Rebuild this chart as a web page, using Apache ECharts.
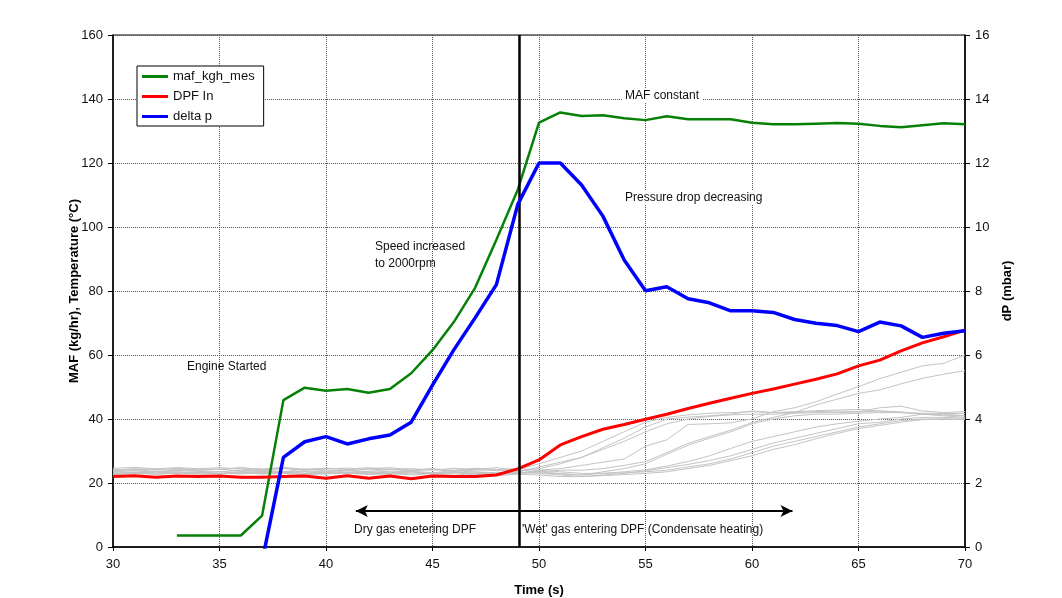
<!DOCTYPE html>
<html>
<head>
<meta charset="utf-8">
<script src="https://cdn.jsdelivr.net/npm/echarts@6/dist/echarts.min.js"></script>
<style>
  html, body { margin: 0; padding: 0; background: #fff; }
  #chart { width: 1062px; height: 598px; }
</style>
</head>
<body>
<div id="chart"></div>
<script>
// time (s), one sample per second
var times = [30,31,32,33,34,35,36,37,38,39,40,41,42,43,44,45,46,47,48,49,50,
  51,52,53,54,55,56,57,58,59,60,61,62,63,64,65,66,67,68,69,70];

// mass air flow (kg/hr)
var mafKgh = [null,null,null,3.6,3.6,3.6,3.6,9.8,45.9,49.8,48.8,49.4,48.2,49.4,54.3,61.5,70.3,81,96,111.6,
  132.6,135.8,134.7,134.9,134,133.4,134.6,133.7,133.7,133.7,132.6,132.1,132.1,132.3,132.5,132.3,131.6,131.2,131.8,132.4,132.1];

// DPF inlet temperature (C)
var dpfIn = [22,22.3,21.8,22.2,22,22.2,21.8,21.8,22,22.2,21.5,22.3,21.5,22.2,21.3,22.2,22,22,22.5,24.4,
  27.2,31.9,34.5,36.8,38.3,39.9,41.5,43.3,44.9,46.5,48,49.4,50.9,52.4,54.1,56.6,58.4,61.3,63.8,65.7,67.8];

// pressure drop (mbar)
var deltaP = [null,null,null,null,null,null,null,-0.45,2.8,3.29,3.45,3.22,3.38,3.5,3.9,5.06,6.16,7.16,8.2,10.7,
  12.0,12.0,11.31,10.34,8.97,8.01,8.13,7.76,7.63,7.38,7.38,7.33,7.11,6.99,6.92,6.73,7.03,6.91,6.55,6.68,6.76];

// other thermocouples (grey)
var tc1 = [24.0,24.5,24.2,24.6,24.1,24.3,24.8,24.2,24.6,24.0,24.3,24.7,24.1,24.4,23.8,24.2,23.6,24.4,23.8,24.2,
  26,28,30,33,36,39,40.5,41.3,41.8,42,42.3,42,42.3,42.6,42.8,43,42.5,42,41.8,41.7,41.7];
var tc2 = [23.5,23.8,23.4,23.9,23.6,23.5,24.0,23.7,23.4,23.8,23.5,24.0,23.3,23.7,23.5,23.2,23.9,23.4,23.0,23.5,
  25,26.5,28,31,34,37.5,40,40.6,41,41.5,42.5,42,42,42.3,42.5,42.3,43.5,44,42.5,42,42.3];
var tc3 = [23.0,23.4,23.1,23.5,23.2,23.0,23.6,23.3,23.1,23.5,23.0,23.4,23.2,23.0,23.5,22.8,23.4,23.0,22.6,23.0,
  24,24.5,25.5,26.5,27.5,31.5,33.5,38.3,38.5,38.8,40,42.3,43.5,45.4,47.8,50.1,52.6,54.6,56.6,57.4,60];
var tc4 = [22.6,23.0,22.8,23.2,22.7,22.9,23.3,22.8,23.0,22.6,22.9,23.1,22.6,23.0,22.5,22.9,22.4,23.0,22.3,22.8,
  23.5,24,24,24.5,25.5,26.7,29.5,32.4,34.5,36.5,38.9,40.5,42,44.4,46.2,48,49.1,51,52.7,54,55.1];
var tc5 = [24.3,24.0,24.5,24.2,24.4,24.8,24.3,24.0,24.5,24.2,24.6,24.3,24.8,24.2,24.5,24.0,24.6,24.2,24.8,24.0,
  23.5,23,22.5,23.5,24.5,26,29,31.8,34,36,38.5,40,41,41.5,41.5,41.8,42,42,41.5,41.2,41];
var tc6 = [23.8,24.2,23.6,24.0,23.9,24.3,23.7,24.1,23.5,24.4,23.8,24.0,23.6,24.2,23.9,24.5,23.7,24.0,24.2,23.6,
  24.5,26,28,30.5,33,36,38.5,40,40.8,41.3,41.5,41.5,41.8,42,42,42.2,42.5,42.2,41.5,41,40.5];
var tc7 = [22.9,23.3,22.7,23.1,23.4,22.8,23.2,22.9,23.5,23.0,22.8,23.3,23.0,22.7,23.2,23.0,23.4,22.5,22.9,23.3,
  23.2,22.8,22.5,23,23.5,24.1,25.3,26.7,28.5,30.8,33,34.5,36,37.5,38.5,39.3,40,40.5,41.5,41.5,41];
var tc8 = [23.6,23.2,23.8,23.4,23.0,23.6,23.1,23.7,23.3,23.5,23.2,23.8,23.4,23.1,23.6,23.3,23.0,23.5,23.2,23.4,
  23,22.5,22,22.5,23,23.8,24.8,25.8,27,28.5,30.5,32.5,34,35.5,37,38.5,39,40,40.5,40.5,40.3];
var tc9 = [24.6,24.9,24.4,24.8,24.5,24.2,24.7,24.4,24.9,24.3,24.6,24.2,24.5,24.8,24.1,24.4,24.0,24.6,24.2,24.5,
  24,23.5,23,23,23.2,23.5,24,25,26,27.5,29.5,31.5,33,34.5,36,37.5,38.5,39.5,40,40,40];
var tc10 = [23.2,22.9,23.4,23.0,23.3,23.1,22.8,23.4,23.0,22.7,23.3,22.9,23.1,23.4,22.8,23.0,23.3,22.9,23.1,22.8,
  22.5,22,22,22.3,22.6,23,23.5,24.5,25.5,27,28.5,30.5,32,33.8,35.5,37,38,39,39.8,40,39.8];
var greyLines = [tc1, tc2, tc3, tc4, tc5, tc6, tc7, tc8, tc9, tc10];

// events
var switchTime = 49.05;
var arrowLevel = 11.25;
var arrowFrom = 41.4;
var arrowTo = 61.9;

var FONT = '"Liberation Sans", Arial, sans-serif';

function pairs(vals) {
  return times.map(function (t, i) { return [t, vals[i]]; });
}

var chart = echarts.init(document.getElementById('chart'));

var series = greyLines.map(function (vals, i) {
  return {
    name: 'tc' + (i + 1),
    type: 'line',
    data: pairs(vals),
    symbol: 'none',
    silent: true,
    lineStyle: { color: '#c4c4c4', width: 1 },
    z: 1
  };
});

series.push({
  name: 'maf_kgh_mes',
  type: 'line',
  data: pairs(mafKgh),
  symbol: 'none',
  color: '#068006',
  lineStyle: { width: 2.5 },
  z: 3
});
series.push({
  name: 'DPF In',
  type: 'line',
  data: pairs(dpfIn),
  symbol: 'none',
  color: '#ff0000',
  lineStyle: { width: 3 },
  z: 4
});
series.push({
  name: 'delta p',
  type: 'line',
  yAxisIndex: 1,
  data: pairs(deltaP),
  symbol: 'none',
  color: '#0000ff',
  lineStyle: { width: 3.5 },
  clip: true,
  z: 5
});
// vertical switch line and the two arrows
series.push({
  name: 'events',
  type: 'line',
  data: [],
  z: 6,
  markLine: {
    silent: true,
    animation: false,
    label: { show: false },
    data: [
      [{ coord: [switchTime, 0], symbol: 'none' }, { coord: [switchTime, 160], symbol: 'none', lineStyle: { color: '#000', width: 2.5, type: 'solid' } }],
      [{ coord: [arrowFrom, arrowLevel], symbol: 'arrow' }, { coord: [arrowTo, arrowLevel], symbol: 'arrow' }]
    ],
    symbolSize: [9, 12],
    lineStyle: { color: '#000', width: 2, type: 'solid' }
  }
});

var textStyle = { fill: '#111', font: '12px ' + FONT };

chart.setOption({
  animation: false,
  backgroundColor: '#fff',
  textStyle: { fontFamily: FONT },
  grid: {
    left: 113, right: 97, top: 35, bottom: 51,
    outerBoundsMode: 'none',
    show: true, borderColor: '#000', borderWidth: 1, backgroundColor: 'transparent'
  },
  legend: {
    data: ['maf_kgh_mes', 'DPF In', 'delta p'],
    orient: 'vertical',
    left: 137, top: 66,
    icon: 'rect',
    itemWidth: 26, itemHeight: 3, itemGap: 5,
    padding: [3, 9, 2, 5],
    backgroundColor: '#fff',
    borderColor: '#000', borderWidth: 1, borderRadius: 0,
    textStyle: { fontSize: 13, color: '#111', fontFamily: FONT, lineHeight: 15 },
    selectedMode: false
  },
  xAxis: {
    type: 'value',
    min: 30, max: 70, interval: 5,
    name: 'Time (s)',
    nameLocation: 'middle',
    nameGap: 37,
    nameTextStyle: { fontWeight: 'bold', fontSize: 13, color: '#000', fontFamily: FONT },
    axisLine: { lineStyle: { color: '#000', width: 1.5 } },
    axisTick: { show: true, inside: false, length: 4, lineStyle: { color: '#000' } },
    axisLabel: { color: '#111', fontSize: 13, margin: 11, fontFamily: FONT },
    splitLine: { show: true, lineStyle: { type: 'dotted', color: '#555', width: 1 } }
  },
  yAxis: [{
    type: 'value',
    min: 0, max: 160, interval: 20,
    name: 'MAF (kg/hr), Temperature (°C)',
    nameLocation: 'middle',
    nameGap: 32,
    nameMoveOverlap: false,
    nameTextStyle: { fontWeight: 'bold', fontSize: 13, color: '#000', fontFamily: FONT },
    axisLine: { show: true, lineStyle: { color: '#000', width: 1.5 } },
    axisTick: { show: true, length: 5, lineStyle: { color: '#000' } },
    axisLabel: { color: '#111', fontSize: 13, margin: 10, fontFamily: FONT },
    splitLine: { show: true, lineStyle: { type: 'dotted', color: '#555', width: 1 } }
  }, {
    type: 'value',
    min: 0, max: 16, interval: 2,
    name: 'dP (mbar)',
    nameLocation: 'middle',
    nameGap: 36,
    nameRotate: 90,
    nameTextStyle: { fontWeight: 'bold', fontSize: 13, color: '#000', fontFamily: FONT },
    axisLine: { show: true, lineStyle: { color: '#000', width: 1.5 } },
    axisTick: { show: true, length: 5, lineStyle: { color: '#000' } },
    axisLabel: { color: '#111', fontSize: 13, margin: 10, fontFamily: FONT },
    splitLine: { show: false }
  }],
  graphic: [
    { type: 'text', left: 187, top: 361, z: 10, style: Object.assign({ text: 'Engine Started' }, textStyle) },
    { type: 'text', left: 375, top: 238, z: 10, style: Object.assign({ text: 'Speed increased\nto 2000rpm', lineHeight: 17 }, textStyle) },
    { type: 'text', left: 622, top: 89, z: 10, style: Object.assign({ text: 'MAF constant', backgroundColor: '#fff', padding: [1, 3] }, textStyle) },
    { type: 'text', left: 622, top: 191, z: 10, style: Object.assign({ text: 'Pressure drop decreasing', backgroundColor: '#fff', padding: [1, 3] }, textStyle) },
    { type: 'text', left: 354, top: 524, z: 10, style: Object.assign({ text: 'Dry gas enetering DPF' }, textStyle) },
    { type: 'text', left: 522, top: 524, z: 10, style: Object.assign({ text: "'Wet' gas entering DPF (Condensate heating)" }, textStyle) }
  ],
  series: series
});
</script>
</body>
</html>
